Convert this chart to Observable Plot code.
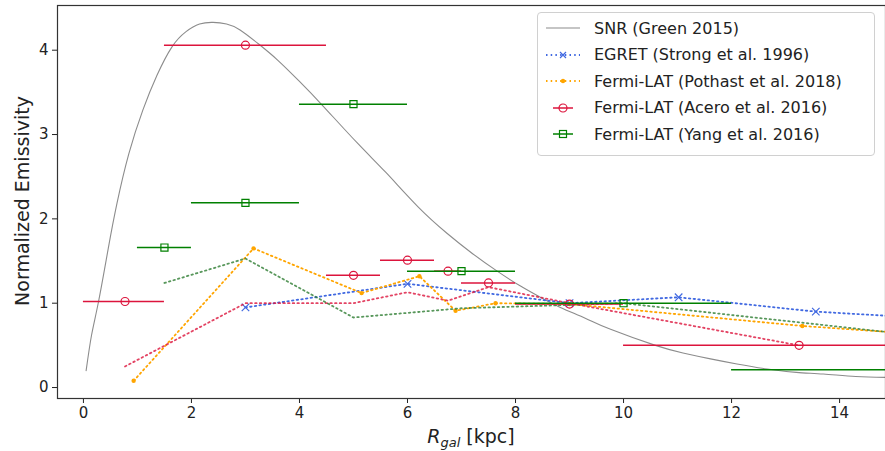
<!DOCTYPE html>
<html>
<head>
<meta charset="utf-8">
<script src="https://cdn.jsdelivr.net/npm/d3@7"></script>
<script src="https://cdn.jsdelivr.net/npm/@observablehq/plot@0.6"></script>
<style>
  html, body { margin: 0; padding: 0; background: #fff; overflow: hidden; }
  #wrap { position: relative; width: 885px; height: 451px; font-family: "DejaVu Sans", sans-serif; }
  #legend { position: absolute; left: 537px; top: 12px; width: 338px; height: 144px; box-sizing: border-box;
            border: 1px solid #d0d0d0; border-radius: 4px; background: rgba(255,255,255,0.85); padding-top: 2px; }
  .row { height: 26.5px; display: flex; align-items: center; font-size: 16px; color: #222; white-space: nowrap; }
  .row svg { margin-left: 7px; margin-right: 13px; flex: none; }
</style>
</head>
<body>
<div id="wrap"><div id="legend"></div></div>
<script>
// ---- data ----
const xTicks = [0, 2, 4, 6, 8, 10, 12, 14];
const yTicks = [0, 1, 2, 3, 4];

// SNR radial distribution (Green 2015)
const snrR = [0.05, 0.15, 0.28, 0.46, 0.62, 0.84, 1.1, 1.36, 1.64, 1.9, 2.15, 2.4, 2.65, 2.9, 3.25, 3.6, 4.0, 4.42, 5.07, 5.6, 6.2, 6.73, 7.2, 7.66, 8.1, 8.46, 8.83, 9.3, 9.76, 10.59, 11.1, 11.61, 12.1, 12.66, 13.2, 13.7, 14.3, 14.85];
const snrE = [0.20, 0.62, 1.02, 1.65, 2.18, 2.77, 3.29, 3.70, 4.04, 4.22, 4.31, 4.33, 4.31, 4.24, 4.07, 3.88, 3.63, 3.35, 2.90, 2.55, 2.14, 1.83, 1.59, 1.38, 1.20, 1.07, 0.95, 0.82, 0.69, 0.50, 0.41, 0.34, 0.28, 0.22, 0.18, 0.16, 0.13, 0.12];

// EGRET (Strong et al. 1996)
const egretR = [3.0, 6.0, 9.0, 11.02, 13.56, 16.5];
const egretE = [0.95, 1.23, 1.0, 1.07, 0.90, 0.79];

// Fermi-LAT (Pothast et al. 2018)
const pothastR = [0.93, 3.15, 5.15, 6.22, 6.89, 7.63, 9.0, 13.31, 16.0];
const pothastE = [0.08, 1.65, 1.12, 1.32, 0.91, 1.0, 0.99, 0.73, 0.61];

// Fermi-LAT (Acero et al. 2016): points with radial bins, plus dotted profile
const aceroR  = [0.77, 3.0, 5.0, 6.0, 6.75, 7.5, 9.0, 13.25];
const aceroE  = [1.02, 4.06, 1.33, 1.51, 1.38, 1.24, 0.99, 0.50];
const aceroLo = [0.0, 1.5, 4.5, 5.5, 6.5, 7.0, 8.0, 10.0];
const aceroHi = [1.5, 4.5, 5.5, 6.5, 7.0, 8.0, 10.0, 16.5];
const aceroLineE = [0.25, 1.0, 1.0, 1.13, 1.03, 1.19, 1.0, 0.5];

// Fermi-LAT (Yang et al. 2016): points with radial bins, plus dotted profile
const yangR  = [1.5, 3.0, 5.0, 7.0, 10.0, 16.0];
const yangE  = [1.66, 2.19, 3.36, 1.38, 1.0, 0.21];
const yangLo = [1.0, 2.0, 4.0, 6.0, 8.0, 12.0];
const yangHi = [2.0, 4.0, 6.0, 8.0, 12.0, 20.0];
const yangLineE = [1.24, 1.53, 0.83, 0.94, 1.0, 0.58];

// ---- styles ----
const C = { snr: "#8c8c8c", egret: "#4169e1", pothast: "#ffa500", acero: "#dc143c", yang: "#008000" };
const dotted = "1.5,3.2";

const snr = snrR.map((r, i) => ({ r, e: snrE[i] }));
const egret = egretR.map((r, i) => ({ r, e: egretE[i] }));
const pothast = pothastR.map((r, i) => ({ r, e: pothastE[i] }));
const acero = aceroR.map((r, i) => ({ r, e: aceroE[i], lo: aceroLo[i], hi: aceroHi[i], le: aceroLineE[i] }));
const yang = yangR.map((r, i) => ({ r, e: yangE[i], lo: yangLo[i], hi: yangHi[i], le: yangLineE[i] }));

const chart = Plot.plot({
  width: 885, height: 451,
  marginLeft: 57, marginRight: 0, marginTop: 5, marginBottom: 53,
  style: { fontFamily: "DejaVu Sans, sans-serif", fontSize: "15px", color: "#222", background: "#fff" },
  x: { domain: [-0.48, 14.85], label: null },
  y: { domain: [-0.13, 4.53], label: null },
  marks: [
    Plot.line(snr, { x: "r", y: "e", stroke: C.snr, strokeWidth: 1.1, curve: "natural", clip: true }),
    Plot.line(egret, { x: "r", y: "e", stroke: C.egret, strokeWidth: 1.8, strokeDasharray: dotted, clip: true }),
    Plot.dot(egret, { x: "r", y: "e", symbol: "times", r: 3.5, stroke: C.egret, strokeWidth: 1.2, clip: true }),
    Plot.line(pothast, { x: "r", y: "e", stroke: C.pothast, strokeWidth: 1.8, strokeDasharray: dotted, clip: true }),
    Plot.dot(pothast, { x: "r", y: "e", r: 2.2, fill: C.pothast, stroke: "none", clip: true }),
    Plot.line(acero, { x: "r", y: "le", stroke: C.acero, strokeWidth: 1.8, strokeDasharray: dotted, strokeOpacity: 0.8, clip: true }),
    Plot.line(yang, { x: "r", y: "le", stroke: "#2e7d32", strokeWidth: 1.8, strokeDasharray: dotted, strokeOpacity: 0.8, clip: true }),
    Plot.ruleY(acero, { y: "e", x1: "lo", x2: "hi", stroke: C.acero, strokeWidth: 1.5, clip: true }),
    Plot.dot(acero, { x: "r", y: "e", r: 4, stroke: C.acero, fill: "none", strokeWidth: 1.2, clip: true }),
    Plot.ruleY(yang, { y: "e", x1: "lo", x2: "hi", stroke: C.yang, strokeWidth: 1.5, clip: true }),
    Plot.dot(yang, { x: "r", y: "e", symbol: "square", r: 4, stroke: C.yang, fill: "none", strokeWidth: 1.2, clip: true }),
    Plot.axisX({ ticks: xTicks, tickFormat: "d", tickSize: 5, tickPadding: 4, fontSize: 15, label: null }),
    Plot.axisY({ ticks: yTicks, tickFormat: "d", tickSize: 5, tickPadding: 4, fontSize: 15, label: null }),
    Plot.frame({ stroke: "#333", strokeWidth: 1.2 })
  ]
});

const svg = d3.select(chart);
svg.append("text")
  .attr("transform", "translate(23,201) rotate(-90)")
  .attr("text-anchor", "middle").attr("dominant-baseline", "middle")
  .attr("font-size", 19).attr("fill", "#222")
  .text("Normalized Emissivity");
const xl = svg.append("text")
  .attr("x", 471).attr("y", 443)
  .attr("text-anchor", "middle").attr("font-size", 19).attr("fill", "#222");
xl.append("tspan").attr("font-style", "italic").text("R");
xl.append("tspan").attr("font-style", "italic").attr("font-size", 13).attr("dy", 4).text("gal");
xl.append("tspan").attr("dy", -4).text(" [kpc]");

document.getElementById("wrap").prepend(chart);
chart.style.position = "absolute"; chart.style.left = "0"; chart.style.top = "0";

// legend
const legendItems = [
  { label: "SNR (Green 2015)", key: "snr" },
  { label: "EGRET (Strong et al. 1996)", key: "egret" },
  { label: "Fermi-LAT (Pothast et al. 2018)", key: "pothast" },
  { label: "Fermi-LAT (Acero et al. 2016)", key: "acero" },
  { label: "Fermi-LAT (Yang et al. 2016)", key: "yang" }
];
const leg = d3.select("#legend");
for (const it of legendItems) {
  const row = leg.append("div").attr("class", "row");
  const s = row.append("svg").attr("width", 36).attr("height", 14);
  const c = C[it.key];
  if (it.key === "snr") {
    s.append("line").attr("x1", 1).attr("x2", 35).attr("y1", 7).attr("y2", 7).attr("stroke", c).attr("stroke-width", 1.2);
  } else if (it.key === "egret" || it.key === "pothast") {
    s.append("line").attr("x1", 1).attr("x2", 35).attr("y1", 7).attr("y2", 7).attr("stroke", c).attr("stroke-width", 1.8).attr("stroke-dasharray", dotted);
    if (it.key === "egret") {
      s.append("path").attr("d", "M15,4L21,10M15,10L21,4").attr("stroke", c).attr("stroke-width", 1.2);
    } else {
      s.append("circle").attr("cx", 18).attr("cy", 7).attr("r", 2.2).attr("fill", c);
    }
  } else {
    s.append("line").attr("x1", 8).attr("x2", 28).attr("y1", 7).attr("y2", 7).attr("stroke", c).attr("stroke-width", 1.5);
    if (it.key === "acero") {
      s.append("circle").attr("cx", 18).attr("cy", 7).attr("r", 4).attr("fill", "none").attr("stroke", c).attr("stroke-width", 1.2);
    } else {
      s.append("rect").attr("x", 14.5).attr("y", 3.5).attr("width", 7).attr("height", 7).attr("fill", "none").attr("stroke", c).attr("stroke-width", 1.2);
    }
  }
  row.append("span").text(it.label);
}
</script>
</body>
</html>
